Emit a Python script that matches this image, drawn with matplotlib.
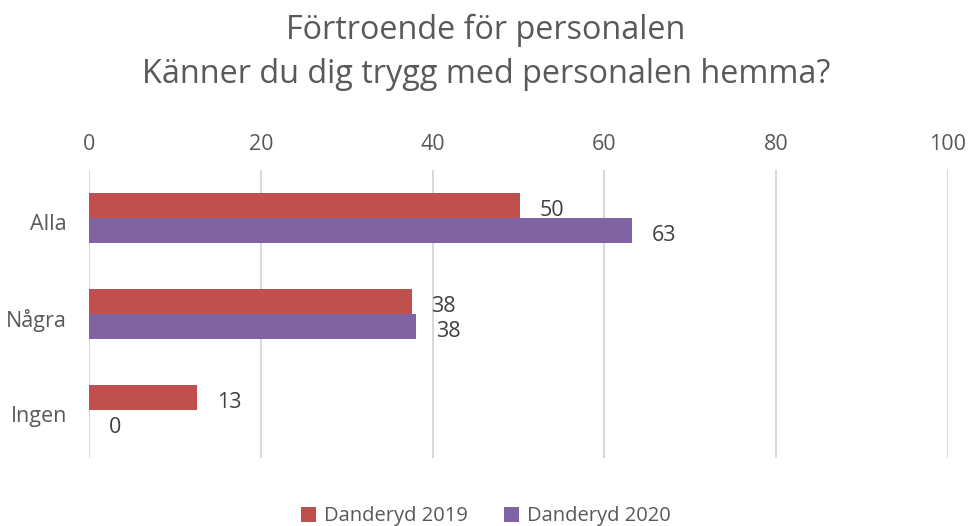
import matplotlib
matplotlib.use('Agg')
from matplotlib import pyplot as plt
import matplotlib.transforms as mtransforms
import numpy as np

# data
categories = ['Alla', 'Några', 'Ingen']
series_names = ['Danderyd 2019', 'Danderyd 2020']
values_2019 = [50.2, 37.6, 12.6]
values_2020 = [63.2, 38.1, 0.0]
xticks = [0, 20, 40, 60, 80, 100]

red = '#C0504D'
purple = '#8064A2'
grey = '#595959'

plt.rcParams['font.family'] = ['Open Sans', 'DejaVu Sans']

fig = plt.figure(figsize=(9.72, 5.26), dpi=100)
ax = fig.add_axes([89 / 972, 1 - 458 / 526, (948 - 89) / 972, (458 - 170) / 526])

y = np.arange(len(categories))
h = 0.265
ax.barh(y - h / 2, values_2019, height=h, color=red, label=series_names[0], zorder=3)
ax.barh(y + h / 2, values_2020, height=h, color=purple, label=series_names[1], zorder=3)

# data labels, slightly below bar centre like the original
for off, vals in ((-h / 2, values_2019), (h / 2, values_2020)):
    for yi, v in zip(y, vals):
        ax.annotate('%.0f' % v, (v, yi + off), xytext=(14, -3.5), textcoords='offset points',
                    ha='left', va='center', fontsize=15.5, color='#404040')

ax.set_xlim(0, 100)
ax.set_ylim(2.5, -0.5)
ax.set_yticks(y)
ax.set_yticklabels(categories)
ax.set_xticks(xticks)
ax.xaxis.tick_top()
ax.tick_params(axis='both', length=0, labelsize=15.5, labelcolor=grey)
ax.tick_params(axis='x', pad=11)
ax.tick_params(axis='y', pad=16)
ax.grid(axis='x', color='#D9D9D9', linewidth=1.5, zorder=0)
for s in ax.spines.values():
    s.set_visible(False)

# category labels sit a little low in the original
shift = mtransforms.ScaledTranslation(0, -4 / 100, fig.dpi_scale_trans)
for lbl in ax.get_yticklabels():
    lbl.set_transform(lbl.get_transform() + shift)

fig.text(0.5, 1 - 14 / 526, 'Förtroende för personalen\nKänner du dig trygg med personalen hemma?',
         ha='center', va='top', fontsize=23.3, color=grey, linespacing=1.45)

fig.legend(loc='lower center', bbox_to_anchor=(0.5, -0.035), ncol=2, frameon=False,
           fontsize=14.5, labelcolor=grey, handlelength=0.75, handleheight=0.75,
           handletextpad=0.4, columnspacing=1.8)

fig.savefig('out.png', dpi=100)
